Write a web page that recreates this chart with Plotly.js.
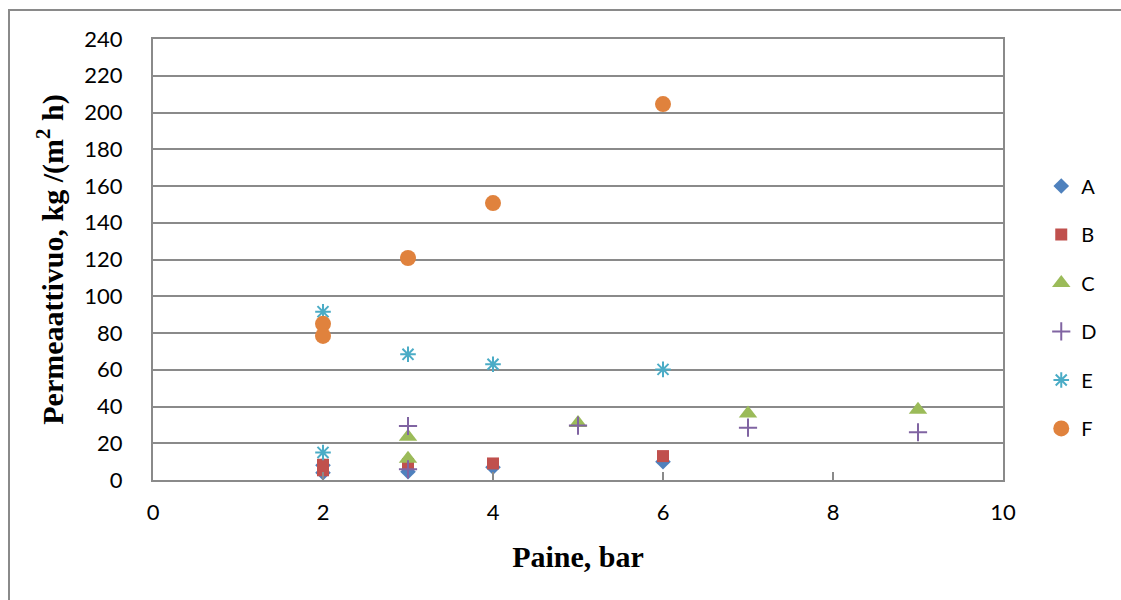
<!DOCTYPE html>
<html>
<head>
<meta charset="utf-8">
<script src="https://cdn.plot.ly/plotly-3.0.1.min.js"></script>
<style>
html,body{margin:0;padding:0;background:#fff;}
#chart{width:1121px;height:600px;}
</style>
</head>
<body>
<div id="chart"></div>
<script>
// Data
const seriesNames = ["A", "B", "C", "D", "E", "F"];

const xA = [2, 2, 3, 4, 6];
const yA = [4, 8, 4.5, 7, 10];

const xB = [2, 2, 3, 4, 6];
const yB = [8.3, 5.3, 8.7, 9, 13];

const xC = [3, 3, 5, 7, 9];
const yC = [23.6, 11.6, 31, 36.2, 38.2];

const xD = [3, 3, 5, 7, 9];
const yD = [29.4, 5.8, 29.6, 28.5, 26];

const xE = [2, 2, 3, 4, 6];
const yE = [91.6, 15, 68.4, 63, 60.2];

const xF = [2, 2, 3, 4, 6];
const yF = [85, 78.4, 120.8, 150.7, 204.6];

const xTickVals = [0, 2, 4, 6, 8, 10];
const yTickVals = [0, 20, 40, 60, 80, 100, 120, 140, 160, 180, 200, 220, 240];

const xs = [xA, xB, xC, xD, xE, xF];
const ys = [yA, yB, yC, yD, yE, yF];

const styles = [
  {symbol: "diamond", size: 12, color: "#4F81BD"},
  {symbol: "square", size: 12, color: "#C0504D"},
  {symbol: "triangle-up", size: 16, color: "#9BBB59"},
  {symbol: "cross-thin-open", size: 13, color: "#8064A2", line: {color: "#8064A2", width: 2}},
  {symbol: "asterisk-open", size: 13, color: "#4BACC6", line: {color: "#4BACC6", width: 2}},
  {symbol: "circle", size: 16, color: "#E0823D"}
];

const traces = seriesNames.map((name, i) => {
  const s = styles[i];
  const marker = {symbol: s.symbol, size: s.size, color: s.color};
  if (s.line) marker.line = s.line; else marker.line = {width: 0};
  return {
    type: "scatter",
    mode: "markers",
    name: name,
    legendgroup: name,
    x: xs[i],
    y: ys[i],
    marker: marker,
    cliponaxis: false
  };
});

const gridCol = "#8a8a8a";

const layout = {
  width: 1121,
  height: 600,
  margin: {l: 153, r: 118, t: 39, b: 120},
  paper_bgcolor: "#ffffff",
  plot_bgcolor: "#ffffff",
  showlegend: true,
  font: {family: "Lato, 'Liberation Sans', sans-serif", color: "#000"},
  xaxis: {
    range: [0, 10],
    tickvals: xTickVals,
    ticktext: xTickVals.map(String),
    showgrid: false,
    zeroline: false,
    showline: true,
    mirror: true,
    linecolor: gridCol,
    linewidth: 2,
    ticks: "inside",
    ticklen: 8,
    tickwidth: 2,
    tickcolor: gridCol,
    ticklabelstandoff: 12,
    tickfont: {family: "Lato, sans-serif", size: 22, color: "#000"},
    title: {text: "Paine, bar", font: {family: "'Liberation Serif', 'Times New Roman', serif", size: 30, color: "#000", weight: "bold"}, standoff: 22}
  },
  yaxis: {
    range: [0, 240],
    tickvals: yTickVals,
    ticktext: yTickVals.map(String),
    showgrid: true,
    gridcolor: gridCol,
    gridwidth: 2,
    zeroline: false,
    showline: true,
    mirror: true,
    linecolor: gridCol,
    linewidth: 2,
    ticks: "",
    ticklabelstandoff: 24,
    tickfont: {family: "Lato, sans-serif", size: 22, color: "#000"},
    title: {text: "<b>Permeaattivuo, kg /(m<sup>2</sup> h)</b>", font: {family: "'Liberation Serif', 'Times New Roman', serif", size: 30, color: "#000"}, standoff: 12}
  },
  legend: {
    x: 1.045,
    xanchor: "left",
    y: 0.711,
    yanchor: "top",
    traceorder: "grouped",
    tracegroupgap: 19.5,
    font: {family: "Lato, sans-serif", size: 20, color: "#000"},
    bgcolor: "rgba(0,0,0,0)",
    borderwidth: 0
  },
  shapes: [
    {
      type: "rect", xref: "paper", yref: "paper",
      x0: (9 - 153) / 850, x1: (1130 - 153) / 850,
      y0: (480 - 610) / 441, y1: (480 - 10) / 441,
      line: {color: "#8a8a8a", width: 2},
      fillcolor: "rgba(0,0,0,0)",
      layer: "below"
    }
  ]
};

Plotly.newPlot("chart", traces, layout, {displayModeBar: false, staticPlot: true});
</script>
</body>
</html>
